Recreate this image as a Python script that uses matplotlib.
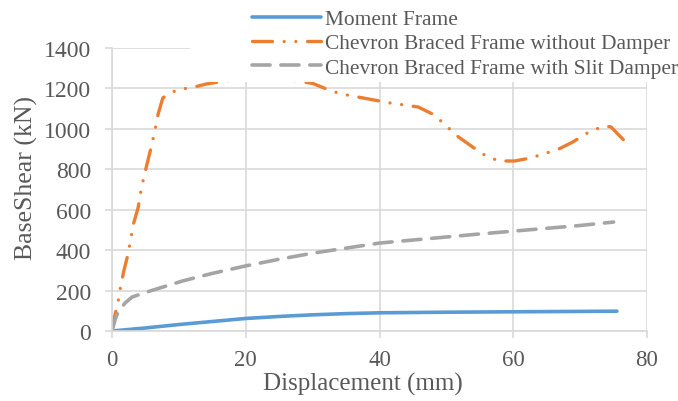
#!/usr/bin/env python3
# -*- coding: utf-8 -*-
import matplotlib
matplotlib.use("Agg")
import matplotlib.pyplot as plt
from matplotlib.patches import Rectangle

# =============== DADOS ===============
# Moment Frame
mf_x = [0, 2, 5, 10, 15, 20, 25, 30, 35, 40, 50, 60, 75.5]
mf_y = [0, 6, 15, 32, 47, 62, 72, 80, 86, 90, 93, 95, 98]

# Chevron Braced Frame without Damper
cb_x = [0, 0.2, 0.9, 1.3, 1.8, 2.4, 3.2, 3.9, 4.3, 4.8, 5.9, 6.4, 6.9, 7.6, 8.7,
        10.2, 11.7, 14.1, 18, 22, 26, 30, 32.6, 34.4, 38, 41.6, 45.8, 48.2, 50, 51.8,
        55.4, 57.8, 60.2, 62.6, 66.8, 68.9, 71.1, 73.5, 74.6, 76.8, 77.7]
cb_y = [0, 45, 143, 223, 302, 381, 529, 609, 688, 767, 915, 990, 1073, 1153, 1178,
        1197, 1202, 1222, 1242, 1252, 1245, 1225, 1190, 1172, 1150, 1128, 1108, 1069, 1014, 960,
        876, 841, 841, 856, 900, 935, 980, 1014, 1010, 935, 910]

# Chevron Braced Frame with Slit Damper
sd_x = [0, 0.5, 1, 2, 3, 5.7, 10.6, 15, 20, 25, 30, 35, 40, 45, 50, 55, 60, 65, 70, 75]
sd_y = [0, 60, 100, 140, 168, 198, 248, 285, 322, 355, 385, 410, 435, 450, 465, 480, 494, 508, 522, 539]

x_ticks = [0, 20, 40, 60, 80]
y_ticks = [0, 200, 400, 600, 800, 1000, 1200, 1400]
# =====================================

plt.rcParams['font.family'] = ['Liberation Serif', 'DejaVu Serif']
GRID = "#d9d9d9"
TXT = "#595959"

fig = plt.figure(figsize=(6.78, 4.02), dpi=100)
ax = fig.add_axes([112/678, 1 - 332/402, (647 - 112)/678, (332 - 49)/402])

ax.plot(mf_x, mf_y, color="#5b9bd5", lw=2.6, solid_capstyle="round",
        label="Moment Frame")
ax.plot(cb_x, cb_y, color="#ed7d31", lw=2.4, dash_capstyle="round",
        linestyle=(0, (6, 3.5, 0.01, 3.5, 0.01, 3.5)),
        label="Chevron Braced Frame without Damper")
ax.plot(sd_x, sd_y, color="#a5a5a5", lw=2.6, dash_capstyle="round",
        linestyle=(0, (5, 3)),
        label="Chevron Braced Frame with Slit Damper")

ax.set_xlim(0, 80)
ax.set_ylim(0, 1400)
ax.set_xticks(x_ticks)
ax.set_yticks(y_ticks)
ax.grid(True, color=GRID, lw=1.2)
ax.set_axisbelow(True)
for s in ["top", "right"]:
    ax.spines[s].set_visible(False)
for s in ["left", "bottom"]:
    ax.spines[s].set_color(GRID)
    ax.spines[s].set_linewidth(1.2)
ax.tick_params(colors=GRID, labelcolor=TXT, labelsize=17, length=5, width=1.2)
ax.tick_params(axis="y", pad=10)
ax.tick_params(axis="x", pad=8, labelsize=16.5)
ax.set_xlabel("Displacement (mm)", fontsize=18, color=TXT, va="center")
ax.set_ylabel("BaseShear (kN)", fontsize=18.5, color=TXT, va="center")
ax.xaxis.set_label_coords((363 - 112)/535, (332 - 384)/283)
ax.yaxis.set_label_coords((26 - 112)/535, (332 - 178)/283)

# caixa branca da legenda (cobre grade como no Excel)
fig.patches.append(Rectangle((190/678, 1 - 83/402), 1, 1, transform=fig.transFigure,
                             facecolor="white", edgecolor="none", zorder=1))
fig.legend(loc="upper left", bbox_to_anchor=(248/678, 1 - 6/402), frameon=False,
           fontsize=15.4, labelcolor=TXT, handlelength=3.2, handletextpad=0.2,
           labelspacing=0.2, borderpad=0.2, borderaxespad=0)

plt.savefig("out.png", dpi=100)
